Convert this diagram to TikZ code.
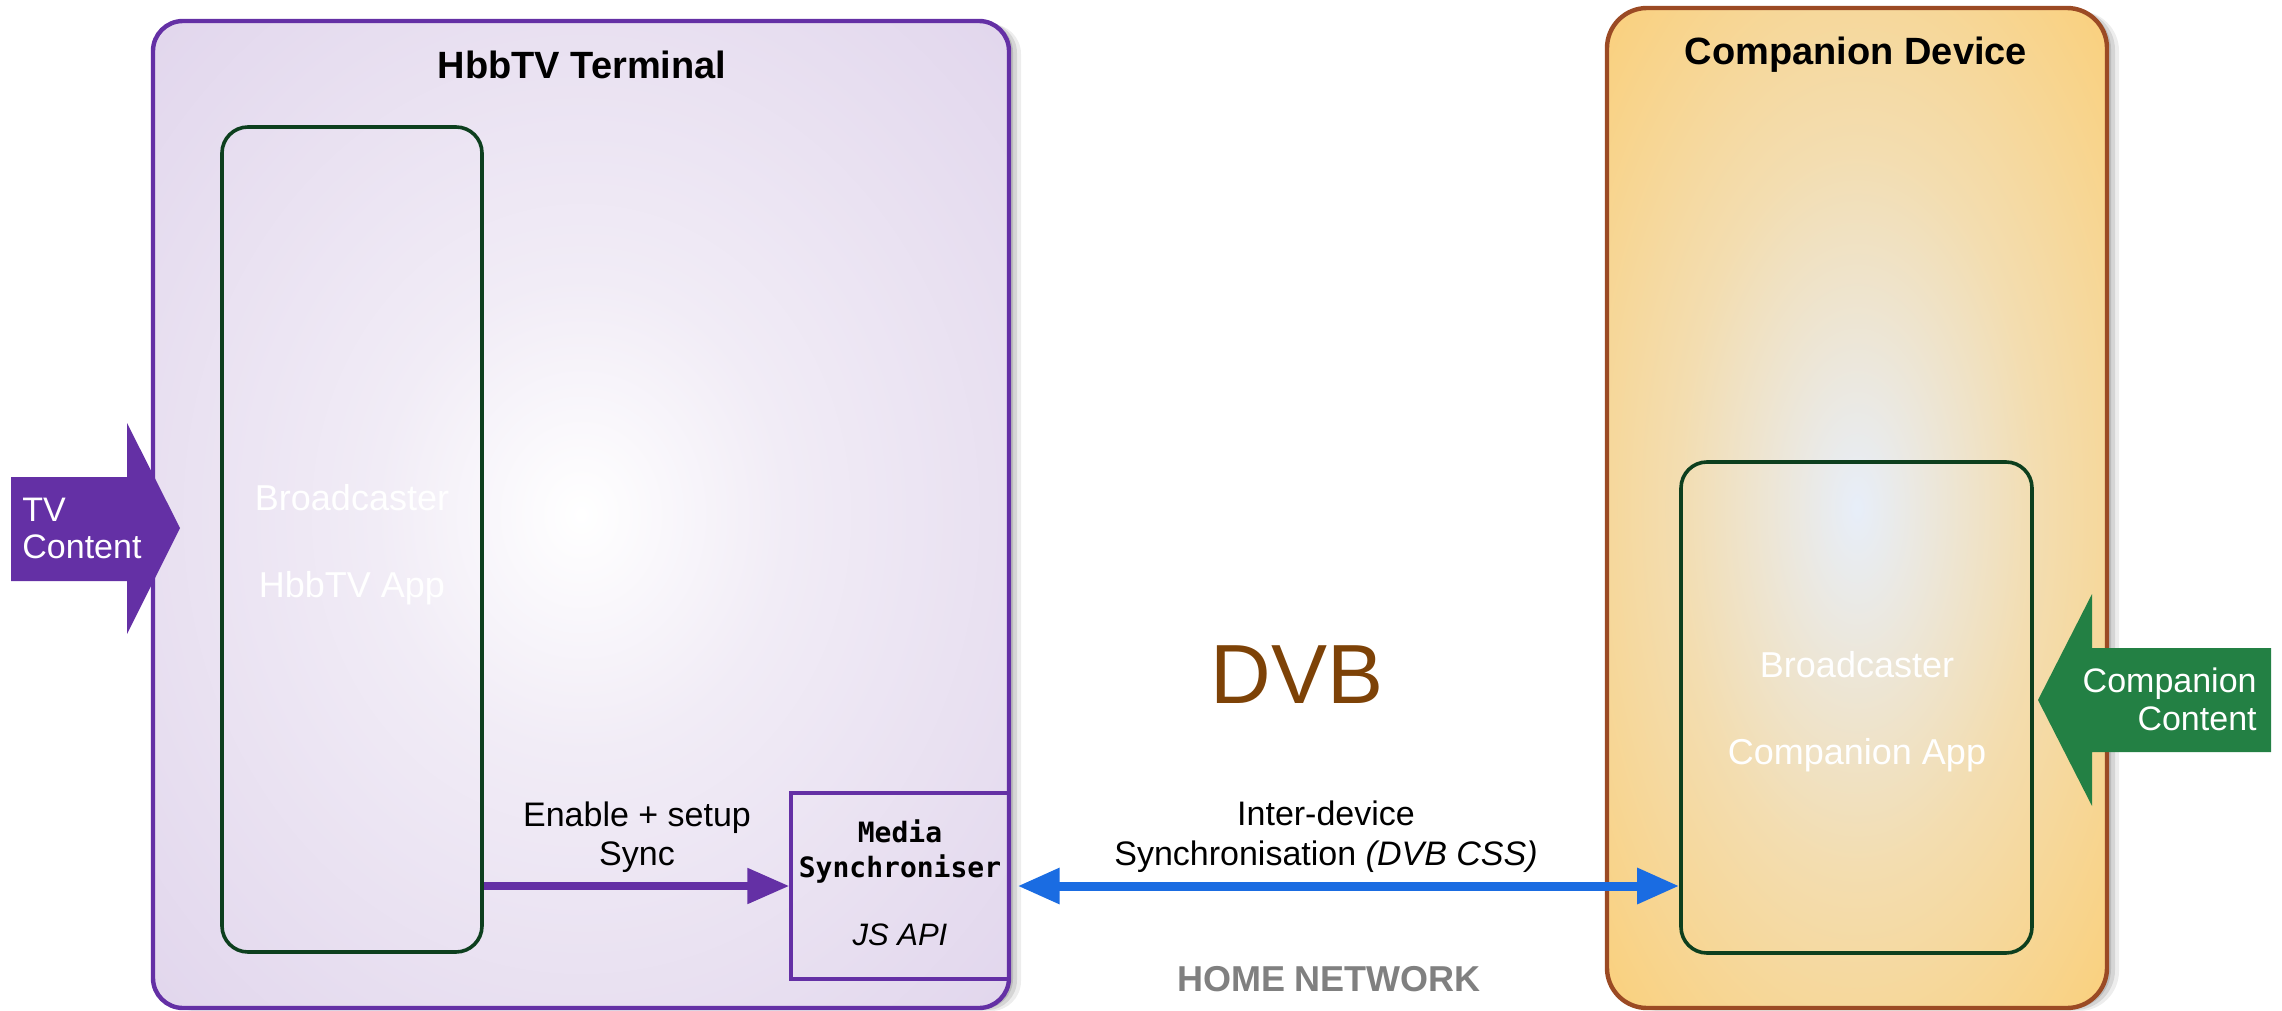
\documentclass[tikz,border=0pt]{standalone}
\usepackage{fontspec}
\setmainfont{Liberation Sans}
\newfontfamily\monofont{DejaVu Sans Mono}
\usetikzlibrary{arrows.meta,shadows}
\definecolor{purp}{HTML}{6430A5}
\definecolor{lav}{HTML}{DDD0EA}
\definecolor{lavmid}{HTML}{F1ECF6}
\definecolor{darkgreen}{HTML}{0D3F1E}
\definecolor{blueline}{HTML}{1A6CE2}
\definecolor{brownb}{HTML}{9B4A24}
\definecolor{orangef}{HTML}{FDCB69}
\definecolor{orangemid}{HTML}{F3DDB0}
\definecolor{compc}{HTML}{E7EEF9}
\definecolor{greenarr}{HTML}{238044}
\definecolor{dvbbrown}{HTML}{7D4207}
\definecolor{netgray}{HTML}{808080}
\pgfdeclareradialshading{hbbshade}{\pgfpoint{0bp}{0bp}}{color(0bp)=(white); color(12bp)=(lavmid); color(42bp)=(lav); color(50bp)=(lav)}
\pgfdeclareradialshading{compshade}{\pgfpoint{0bp}{0bp}}{color(0bp)=(compc); color(18bp)=(orangemid); color(42bp)=(orangef); color(50bp)=(orangef)}
\tikzset{
  softshadow/.style={
    drop shadow={shadow xshift=2pt, shadow yshift=-0.5pt, opacity=.12, fill=black},
    drop shadow={shadow xshift=4pt, shadow yshift=-1pt, opacity=.10, fill=black},
    drop shadow={shadow xshift=6pt, shadow yshift=-1.5pt, opacity=.07, fill=black}},
  outerbox/.style={rectangle, inner sep=0pt, line width=2.2pt, softshadow},
  appbox/.style={rectangle, rounded corners=13pt, inner sep=0pt, draw=darkgreen, line width=1.8pt},
  lbl/.style={anchor=base, inner sep=0pt, font=\fontsize{17pt}{20pt}\selectfont},
  applbl/.style={anchor=base, inner sep=0pt, text=white, font=\fontsize{18pt}{21pt}\selectfont},
  titlelbl/.style={anchor=base, inner sep=0pt, font=\bfseries\fontsize{19pt}{22pt}\selectfont},
  monolbl/.style={anchor=base, inner sep=0pt, font=\monofont\bfseries\fontsize{14pt}{17pt}\selectfont},
  arrlbl/.style={inner sep=0pt, text=white, font=\fontsize{17pt}{20pt}\selectfont}
}
\begin{document}
\begin{tikzpicture}[x=0.5pt, y=-0.5pt]
\useasboundingbox (0,0) rectangle (2282,1011);
% outer boxes
\node[outerbox, rounded corners=15pt, draw=purp, shading=hbbshade,
      minimum width=428pt, minimum height=493.5pt] (hbb) at (581,514.5) {};
\node[outerbox, rounded corners=20pt, draw=brownb, shading=compshade,
      minimum width=250pt, minimum height=500pt] (comp) at (1857,508) {};
% inner boxes
\node[appbox, minimum width=130pt, minimum height=412.5pt] (happ) at (352,539.5) {};
\node[appbox, minimum width=175.5pt, minimum height=245.5pt] (capp) at (1856.5,707.5) {};
\node[rectangle, draw=purp, line width=1.6pt, inner sep=0pt,
      minimum width=109pt, minimum height=93pt] (ms) at (900,886) {};
% titles
\node[titlelbl] (thbb) at (582,79) {HbbTV Terminal};
\node[titlelbl] (tcomp) at (1856,65) {Companion Device};
% app labels
\node[applbl] (hb1) at (352,510) {Broadcaster};
\node[applbl] (hb2) at (352,597) {HbbTV App};
\node[applbl] (cb1) at (1857,677) {Broadcaster};
\node[applbl] (cb2) at (1857,764) {Companion App};
% media synchroniser text
\node[monolbl] (ms1) at (900,842) {Media};
\node[monolbl] (ms2) at (900,877) {Synchroniser};
\node[anchor=base, inner sep=0pt, font=\itshape\fontsize{15.5pt}{18pt}\selectfont] (ms3) at (900,945) {JS API};
% connector labels
\node[lbl] (en1) at (637,826) {Enable + setup};
\node[lbl] (en2) at (637,865) {Sync};
\node[lbl] (id1) at (1326,825) {Inter-device};
\node[lbl] (id2) at (1326,865) {Synchronisation \textit{(DVB CSS)}};
\node[anchor=base, inner sep=0pt, text=netgray, font=\bfseries\fontsize{18pt}{21pt}\selectfont] (home) at (1329,991) {HOME NETWORK};
\node[anchor=base, inner sep=0pt, text=dvbbrown, font=\fontsize{42pt}{48pt}\selectfont] (dvb) at (1297,703) {DVB};
% connectors
\draw[purp, line width=4pt, -{Triangle[length=21pt,width=17pt]}] (happ.east |- ms.west) -- (ms.west);
\draw[blueline, line width=4.5pt, {Triangle[length=21pt,width=17pt]}-{Triangle[length=21pt,width=17pt]}, shorten <=3.5pt]
  (ms.east) -- (capp.west |- ms.east);
% block arrows
\fill[purp] (11,477) -- (127,477) -- (127,423) -- (180,528) -- (127,634) -- (127,581) -- (11,581) -- cycle;
\node[arrlbl, anchor=base west] (tv1) at (22,521) {TV};
\node[arrlbl, anchor=base west] (tv2) at (22,558) {Content};
\fill[greenarr] (2271,648) -- (2092,648) -- (2092,594) -- (2038,700) -- (2092,806) -- (2092,752) -- (2271,752) -- cycle;
\node[arrlbl, anchor=base east] (cc1) at (2257,692) {Companion};
\node[arrlbl, anchor=base east] (cc2) at (2257,730) {Content};
\end{tikzpicture}
\end{document}
